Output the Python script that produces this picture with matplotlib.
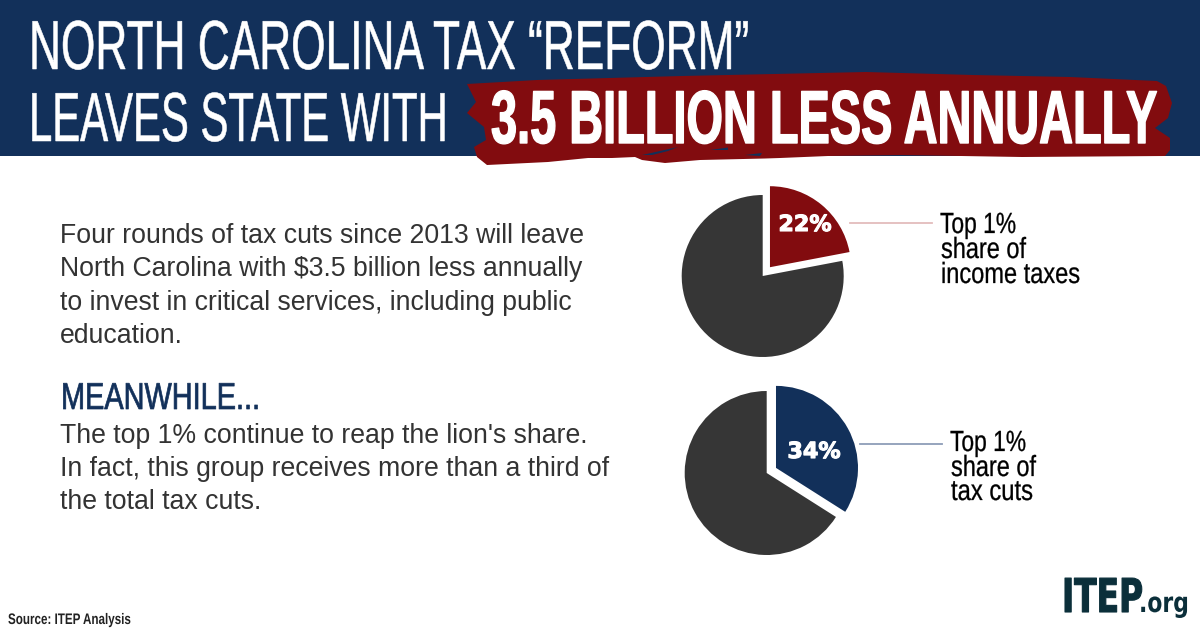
import matplotlib
matplotlib.use("Agg")
import matplotlib.pyplot as plt
import matplotlib.patheffects as pe
from matplotlib.text import Text
from matplotlib.transforms import Affine2D, Bbox

# data
income_shares = [22, 78]
cut_shares = [34, 66]
income_label = "22%"
cut_label = "34%"

navy = "#12305a"
red = "#820c0f"
dark = "#363636"
logo = "#0b2f3a"
sans = "Liberation Sans"

fig = plt.figure(figsize=(12, 6.3), dpi=100)
ax = fig.add_axes([0, 0, 1, 1])
ax.set_xlim(0, 1200)
ax.set_ylim(0, 630)
renderer = fig.canvas.get_renderer()


# y is measured from the top of the picture
def py(y):
    return 630 - y


# no condensed font is installed, so the text is squeezed sideways when drawn
class Squeeze(pe.AbstractPathEffect):
    def __init__(self, x0, sx, stroke=0):
        super().__init__()
        self.x0, self.sx, self.stroke = x0, sx, stroke

    def draw_path(self, renderer, gc, tpath, affine, rgbFace):
        squeezed = affine + Affine2D().translate(-self.x0, 0).scale(self.sx, 1).translate(self.x0, 0)
        gc0 = renderer.new_gc()
        gc0.copy_properties(gc)
        gc0.set_linewidth(self.stroke)
        gc0.set_foreground(rgbFace)
        renderer.draw_path(gc0, tpath, squeezed, rgbFace)
        gc0.restore()


class NarrowText(Text):
    sx = 1

    def get_window_extent(self, renderer=None, dpi=None):
        bb = super().get_window_extent(renderer, dpi)
        return Bbox.from_extents(bb.x0, bb.y0, bb.x0 + bb.width * self.sx, bb.y1)


def narrow_text(x, baseline, s, width, size, color, family=sans, weight="normal", stroke=0, zorder=3):
    t = NarrowText(x, py(baseline), s, color=color, fontsize=size, family=family, weight=weight,
                   va="baseline", ha="left", zorder=zorder)
    ax.add_artist(t)
    t.sx = width / t.get_window_extent(renderer).width
    t.set_path_effects([Squeeze(x, t.sx, stroke)])
    return t


# banner
ax.fill([0, 1200, 1200, 0], [py(0), py(0), py(156), py(156)], color=navy, lw=0, zorder=1)

# brush stroke behind the big headline
brush = [(467, 84), (537, 80), (682, 76), (866, 72), (973, 75), (1070, 77), (1157, 81),
         (1166, 86), (1172, 103), (1168, 118), (1155, 128), (1170, 138), (1170, 150), (1165, 156),
         (1022, 157), (900, 155), (828, 156), (780, 158), (765, 158.5), (700, 160), (665, 163),
         (642, 160), (635, 157), (612, 158), (588, 158), (548, 162), (487, 165), (477, 157),
         (474, 147), (486, 140), (484, 127), (467, 113), (476, 102)]
ax.fill([p[0] for p in brush], [py(p[1]) for p in brush], color=red, lw=0, zorder=2)
flecks = [[(642, 155), (678, 147), (668, 151), (652, 155)],
          [(710, 150), (728, 147.5), (728, 150)],
          [(745, 155), (762, 153), (760, 156)]]
for fleck in flecks:
    ax.fill([p[0] for p in fleck], [py(p[1]) for p in fleck], color=navy, lw=0, zorder=2)

narrow_text(29, 69, "NORTH CAROLINA TAX “REFORM”", 721, 50, "white", stroke=0.4)
narrow_text(29, 141, "LEAVES STATE WITH", 419, 50, "white", stroke=0.4)
narrow_text(491, 143, "3.5 BILLION LESS ANNUALLY", 666, 54, "white", weight="bold", stroke=1.0)

# body text
body1 = ["Four rounds of tax cuts since 2013 will leave",
         "North Carolina with $3.5 billion less annually",
         "to invest in critical services, including public",
         "education."]
for i, line in enumerate(body1):
    ax.text(60, py(236 + i * 33.3), line, color="#333333", fontsize=19.2, family=sans,
            va="center", ha="left")

narrow_text(61, 409, "MEANWHILE...", 199, 27, navy, stroke=0.5)

body2 = ["The top 1% continue to reap the lion's share.",
         "In fact, this group receives more than a third of",
         "the total tax cuts."]
for i, line in enumerate(body2):
    ax.text(60, py(436 + i * 33), line, color="#333333", fontsize=19.2, family=sans,
            va="center", ha="left")

# pies
ax.pie(income_shares, colors=[red, dark], explode=[11.4, 0], startangle=90, counterclock=False,
       center=(762.7, py(276)), radius=81, frame=True)
ax.pie(cut_shares, colors=[navy, dark], explode=[10.6, 0], startangle=90, counterclock=False,
       center=(766.7, py(473)), radius=82, frame=True)

heavy = [pe.withStroke(linewidth=0.8, foreground="white")]
ax.text(805, py(225), income_label, color="white", fontsize=16, weight="bold",
        family="DejaVu Sans", ha="center", va="center", path_effects=heavy)
ax.text(814, py(452), cut_label, color="white", fontsize=16, weight="bold",
        family="DejaVu Sans", ha="center", va="center", path_effects=heavy)

# leader lines
ax.plot([850, 932], [py(223), py(223)], color="#e3bcbc", lw=1.3)
ax.plot([860, 942], [py(444), py(444)], color="#8d9db8", lw=1.3)

narrow_text(940, 233, "Top 1%", 76, 21, "black", stroke=0.2)
narrow_text(941, 258, "share of", 85, 21, "black", stroke=0.2)
narrow_text(941, 283, "income taxes", 139, 21, "black", stroke=0.2)
narrow_text(950, 451, "Top 1%", 76, 21, "black", stroke=0.2)
narrow_text(951, 476, "share of", 85, 21, "black", stroke=0.2)
narrow_text(951, 500, "tax cuts", 82, 21, "black", stroke=0.2)

# footer
narrow_text(8, 624, "Source: ITEP Analysis", 123, 11, "#222222", weight="bold")
narrow_text(1062, 612, "ITEP", 81, 33.5, logo, family="DejaVu Sans", weight="bold", stroke=0.8)
narrow_text(1139, 612, ".org", 50, 20, logo, family="DejaVu Sans", weight="bold")

ax.set_xlim(0, 1200)
ax.set_ylim(0, 630)
ax.set_aspect("auto")
ax.axis("off")

fig.savefig("out.png", dpi=100)
